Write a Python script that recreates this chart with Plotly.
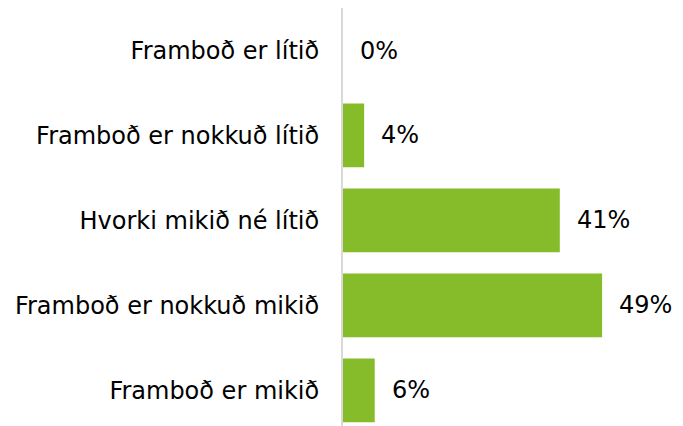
import plotly.graph_objects as go

categories = ["Framboð er lítið", "Framboð er nokkuð lítið", "Hvorki mikið né lítið",
              "Framboð er nokkuð mikið", "Framboð er mikið"]
values = [0, 4, 41, 49, 6]
labels = ["0%", "4%", "41%", "49%", "6%"]

FONT = "DejaVu Sans, Verdana, sans-serif"
FS = 24
fig = go.Figure()
fig.add_trace(go.Bar(
    y=categories, x=values, orientation="h",
    marker=dict(color="#86BC29", line=dict(width=0)),
    width=0.75, hoverinfo="skip",
))
for c, v, t in zip(categories, values, labels):
    fig.add_annotation(x=v, y=c, text=t, showarrow=False, xanchor="left",
                       xshift=15, font=dict(family=FONT, size=FS, color="#000000"))

# page body has an 8px default margin, so the figure is sized to fill the rest
fig.update_layout(
    width=675, height=418,
    margin=dict(l=335, r=0, t=0, b=0, autoexpand=False),
    paper_bgcolor="white", plot_bgcolor="white",
    showlegend=False,
    font=dict(family=FONT, size=FS, color="#000000"),
    bargap=0.25,
)
fig.update_xaxes(range=[0, 64.3], visible=False, showgrid=False, zeroline=False, automargin=False)
fig.update_yaxes(
    categoryorder="array", categoryarray=categories, automargin=False,
    range=[4.418, -0.5], showgrid=False, zeroline=False,
    showline=True, linecolor="#D9D9D9", linewidth=2,
    ticks="", ticklabelstandoff=17, tickfont=dict(family=FONT, size=FS, color="#000000"),
)
fig.write_html("out.html")
